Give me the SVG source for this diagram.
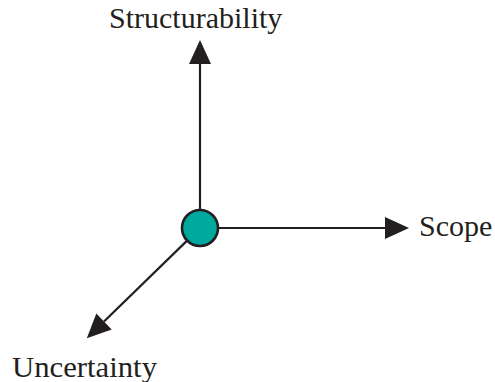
<svg xmlns="http://www.w3.org/2000/svg" width="495" height="382" viewBox="0 0 495 382">
  <style>
    .axis { stroke: #231f20; stroke-width: 2.2; fill: none; }
    .label { font-family: 'Liberation Serif', 'Times New Roman', Times, serif; font-size: 30px; fill: #231f20; }
    .hub { fill: #00a99d; stroke: #231f20; stroke-width: 2.6; }
  </style>
  <defs>
    <marker id="arrow" markerUnits="userSpaceOnUse" markerWidth="25" markerHeight="23" refX="0" refY="11" orient="auto" overflow="visible">
      <path d="M0,0 L24,11 L0,22 z" fill="#231f20"/>
    </marker>
  </defs>
  <rect width="495" height="382" fill="#ffffff"/>
  <g id="connectors">
    <line class="axis" x1="200" y1="212" x2="200" y2="64" marker-end="url(#arrow)"/>
    <line class="axis" x1="216" y1="228" x2="385" y2="228" marker-end="url(#arrow)"/>
    <line class="axis" x1="187.1" y1="240.6" x2="104" y2="321.5" marker-end="url(#arrow)"/>
  </g>
  <g id="center">
    <circle class="hub" cx="200" cy="228" r="18"/>
  </g>
  <g id="structurability">
    <text class="label" x="109" y="28">Structurability</text>
  </g>
  <g id="scope">
    <text class="label" x="419" y="236">Scope</text>
  </g>
  <g id="uncertainty">
    <text class="label" x="12" y="377" textLength="145" lengthAdjust="spacingAndGlyphs">Uncertainty</text>
  </g>
</svg>
